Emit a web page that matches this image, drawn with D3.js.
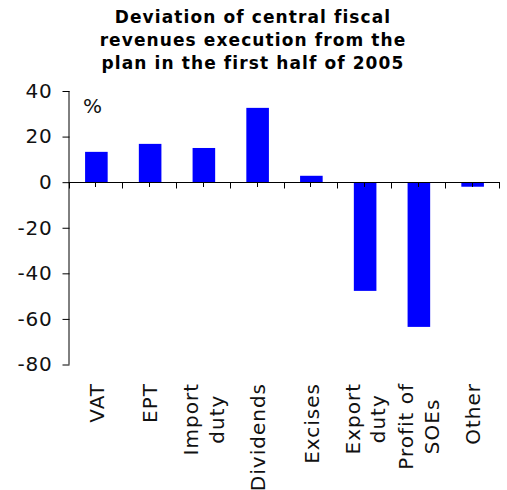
<!DOCTYPE html>
<html>
<head>
<meta charset="utf-8">
<script src="https://cdn.jsdelivr.net/npm/d3@7"></script>
<style>
  html, body { margin: 0; padding: 0; background: #fff; }
  svg { display: block; font-family: "DejaVu Sans", Verdana, sans-serif; }
</style>
</head>
<body>
<svg id="chart" width="507" height="490"></svg>
<script>
// data
const categories = ['VAT', 'EPT', 'Import duty', 'Dividends', 'Excises', 'Export duty', 'Profit of SOEs', 'Other']
const labelLines = [['VAT'], ['EPT'], ['Import', 'duty'], ['Dividends'], ['Excises'], ['Export', 'duty'], ['Profit of', 'SOEs'], ['Other']]
const values = [13.3, 16.8, 15.0, 32.6, 2.8, -47.7, -63.5, -2.0]
const yTicks = [40, 20, 0, -20, -40, -60, -80]
const titleLines = ['Deviation of central fiscal', 'revenues execution from the', 'plan in the first half of 2005']
const unitLabel = '%'

const svg = d3.select('#chart')

const plotLeft = 69.5, plotRight = 499.5, plotTop = 91, plotBottom = 364.5

const x = d3.scaleBand()
    .domain(categories)
    .range([plotLeft, plotRight])
    .padding(0)

const y = d3.scaleLinear()
    .domain([-80, 40])
    .range([plotBottom, plotTop])

// title
svg.append('g')
  .selectAll('text')
  .data(titleLines)
  .join('text')
    .attr('x', 253)
    .attr('y', (d, i) => 23 + i * 23)
    .attr('text-anchor', 'middle')
    .style('font-weight', 'bold')
    .style('font-size', '17px')
    .style('letter-spacing', '1.1px')
    .style('fill', '#000')
    .text(d => d)

// bars
const barW = x.bandwidth() * 0.42
svg.append('g')
  .selectAll('rect')
  .data(values)
  .join('rect')
    .attr('x', (d, i) => x(categories[i]) + (x.bandwidth() - barW) / 2)
    .attr('y', d => y(Math.max(0, d)))
    .attr('width', barW)
    .attr('height', d => Math.abs(y(d) - y(0)))
    .style('fill', '#0000ff')

// y axis (plain hyphen for negatives, as in the original)
const yAxis = svg.append('g')
    .attr('transform', `translate(${plotLeft},0)`)
    .call(d3.axisLeft(y).tickValues(yTicks).tickFormat(d => String(d)).tickSize(7).tickPadding(10))
yAxis.select('.domain').attr('d', `M-0.5,${plotTop}V${plotBottom}`).attr('stroke', '#000')
yAxis.selectAll('.tick line').attr('stroke', '#000')
yAxis.selectAll('.tick text')
    .style('font-size', '20px')
    .style('letter-spacing', '0.8px')
    .style('font-family', '"DejaVu Sans", Verdana, sans-serif')
    .style('fill', '#111')

// x axis line at zero
const y0 = Math.round(y(0)) + 0.5
svg.append('line')
    .attr('x1', plotLeft - 1).attr('x2', plotRight + 0.5)
    .attr('y1', y0).attr('y2', y0)
    .attr('stroke', '#000')

// boundary ticks and center ticks
const bounds = categories.map(c => x(c)).concat([plotRight])
svg.append('g')
  .selectAll('line')
  .data(bounds)
  .join('line')
    .attr('x1', d => Math.round(d) - 0.5).attr('x2', d => Math.round(d) - 0.5)
    .attr('y1', y0).attr('y2', y0 + 6)
    .attr('stroke', '#000')
svg.append('g')
  .selectAll('line')
  .data(categories)
  .join('line')
    .attr('x1', d => Math.round(x(d) + x.bandwidth() / 2) - 0.5)
    .attr('x2', d => Math.round(x(d) + x.bandwidth() / 2) - 0.5)
    .attr('y1', y0).attr('y2', y0 + 4.5)
    .attr('stroke', '#000')

// category labels, rotated, block aligned to top and lines centered within the block
const labelTop = 383
const lineGap = 25.5
const labelG = svg.append('g')
labelLines.forEach((lines, i) => {
  const cx = x(categories[i]) + x.bandwidth() / 2
  const g = labelG.append('g')
  const texts = g.selectAll('text')
    .data(lines)
    .join('text')
      .style('font-size', '20px')
      .style('letter-spacing', '1px')
      .style('fill', '#111')
      .attr('text-anchor', 'middle')
      .text(d => d)
  const maxLen = d3.max(texts.nodes(), n => n.getComputedTextLength())
  const cy = labelTop + maxLen / 2
  texts.attr('transform', (d, j) => {
    const bx = cx + 7.2 + (j - (lines.length - 1) / 2) * lineGap
    return `translate(${bx},${cy}) rotate(-90)`
  })
})

// unit label
svg.append('text')
    .attr('x', 83)
    .attr('y', 113)
    .style('font-size', '20px')
    .style('fill', '#111')
    .text(unitLabel)
</script>
</body>
</html>
